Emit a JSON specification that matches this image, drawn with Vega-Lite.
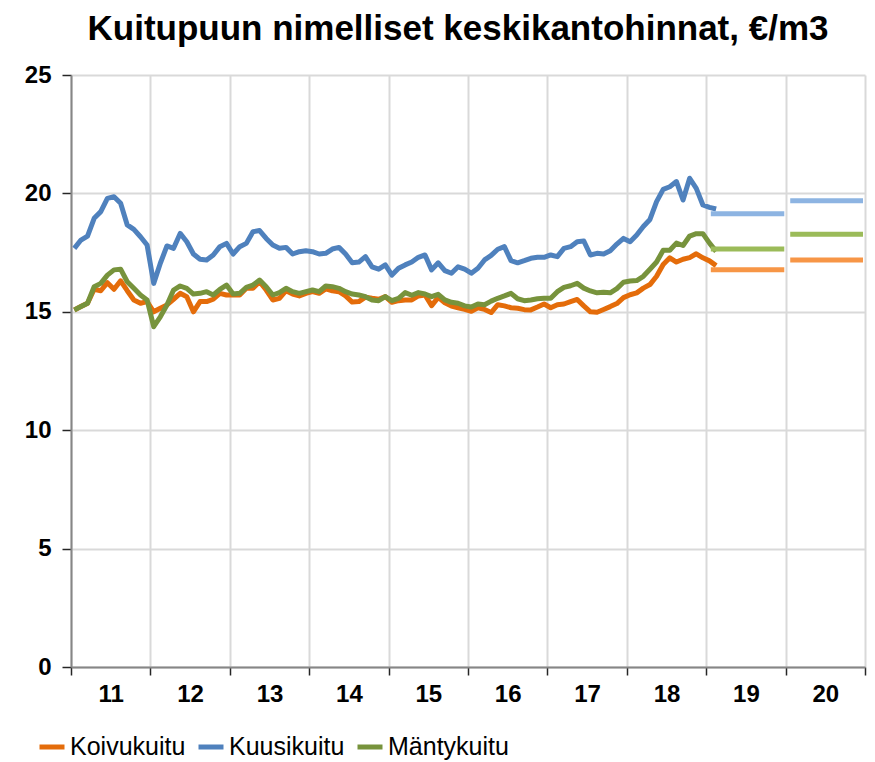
{
  "$schema": "https://vega.github.io/schema/vega-lite/v6.json",
  "width": 794,
  "height": 592,
  "autosize": {"type": "none"},
  "padding": {"left": 71, "top": 75, "right": 10, "bottom": 95},
  "background": "white",
  "title": {"text": "Kuitupuun nimelliset keskikantohinnat, €/m3", "fontSize": 35, "font": "Liberation Sans", "fontWeight": "bold", "color": "black", "anchor": "middle", "offset": 16, "dx": -10},
  "config": {"view": {"stroke": null}, "font": "Liberation Sans"},
  "datasets": {
    "monthly": [
      {"i":0,"Koivukuitu":15.08,"Kuusikuitu":17.68,"Mäntykuitu":15.08},
      {"i":1,"Koivukuitu":15.22,"Kuusikuitu":18.03,"Mäntykuitu":15.22},
      {"i":2,"Koivukuitu":15.36,"Kuusikuitu":18.2,"Mäntykuitu":15.36},
      {"i":3,"Koivukuitu":15.95,"Kuusikuitu":18.95,"Mäntykuitu":16.06},
      {"i":4,"Koivukuitu":15.89,"Kuusikuitu":19.23,"Mäntykuitu":16.2},
      {"i":5,"Koivukuitu":16.23,"Kuusikuitu":19.79,"Mäntykuitu":16.55},
      {"i":6,"Koivukuitu":15.95,"Kuusikuitu":19.86,"Mäntykuitu":16.77},
      {"i":7,"Koivukuitu":16.31,"Kuusikuitu":19.58,"Mäntykuitu":16.8},
      {"i":8,"Koivukuitu":15.89,"Kuusikuitu":18.67,"Mäntykuitu":16.27},
      {"i":9,"Koivukuitu":15.5,"Kuusikuitu":18.48,"Mäntykuitu":15.99},
      {"i":10,"Koivukuitu":15.36,"Kuusikuitu":18.17,"Mäntykuitu":15.71},
      {"i":11,"Koivukuitu":15.43,"Kuusikuitu":17.82,"Mäntykuitu":15.5},
      {"i":12,"Koivukuitu":15.0,"Kuusikuitu":16.2,"Mäntykuitu":14.37},
      {"i":13,"Koivukuitu":15.15,"Kuusikuitu":17.05,"Mäntykuitu":14.79},
      {"i":14,"Koivukuitu":15.29,"Kuusikuitu":17.78,"Mäntykuitu":15.29},
      {"i":15,"Koivukuitu":15.53,"Kuusikuitu":17.68,"Mäntykuitu":15.92},
      {"i":16,"Koivukuitu":15.78,"Kuusikuitu":18.31,"Mäntykuitu":16.09},
      {"i":17,"Koivukuitu":15.64,"Kuusikuitu":17.96,"Mäntykuitu":15.99},
      {"i":18,"Koivukuitu":15.0,"Kuusikuitu":17.44,"Mäntykuitu":15.75},
      {"i":19,"Koivukuitu":15.43,"Kuusikuitu":17.22,"Mäntykuitu":15.78},
      {"i":20,"Koivukuitu":15.43,"Kuusikuitu":17.19,"Mäntykuitu":15.85},
      {"i":21,"Koivukuitu":15.53,"Kuusikuitu":17.4,"Mäntykuitu":15.71},
      {"i":22,"Koivukuitu":15.78,"Kuusikuitu":17.75,"Mäntykuitu":15.95},
      {"i":23,"Koivukuitu":15.71,"Kuusikuitu":17.89,"Mäntykuitu":16.13},
      {"i":24,"Koivukuitu":15.71,"Kuusikuitu":17.44,"Mäntykuitu":15.75},
      {"i":25,"Koivukuitu":15.71,"Kuusikuitu":17.75,"Mäntykuitu":15.78},
      {"i":26,"Koivukuitu":15.99,"Kuusikuitu":17.89,"Mäntykuitu":16.03},
      {"i":27,"Koivukuitu":15.99,"Kuusikuitu":18.38,"Mäntykuitu":16.13},
      {"i":28,"Koivukuitu":16.27,"Kuusikuitu":18.43,"Mäntykuitu":16.34},
      {"i":29,"Koivukuitu":15.92,"Kuusikuitu":18.1,"Mäntykuitu":16.06},
      {"i":30,"Koivukuitu":15.5,"Kuusikuitu":17.82,"Mäntykuitu":15.71},
      {"i":31,"Koivukuitu":15.57,"Kuusikuitu":17.68,"Mäntykuitu":15.81},
      {"i":32,"Koivukuitu":15.89,"Kuusikuitu":17.72,"Mäntykuitu":15.99},
      {"i":33,"Koivukuitu":15.75,"Kuusikuitu":17.44,"Mäntykuitu":15.85},
      {"i":34,"Koivukuitu":15.67,"Kuusikuitu":17.54,"Mäntykuitu":15.78},
      {"i":35,"Koivukuitu":15.78,"Kuusikuitu":17.58,"Mäntykuitu":15.85},
      {"i":36,"Koivukuitu":15.85,"Kuusikuitu":17.54,"Mäntykuitu":15.92},
      {"i":37,"Koivukuitu":15.78,"Kuusikuitu":17.44,"Mäntykuitu":15.85},
      {"i":38,"Koivukuitu":15.97,"Kuusikuitu":17.47,"Mäntykuitu":16.09},
      {"i":39,"Koivukuitu":15.89,"Kuusikuitu":17.65,"Mäntykuitu":16.06},
      {"i":40,"Koivukuitu":15.85,"Kuusikuitu":17.72,"Mäntykuitu":15.99},
      {"i":41,"Koivukuitu":15.67,"Kuusikuitu":17.44,"Mäntykuitu":15.85},
      {"i":42,"Koivukuitu":15.41,"Kuusikuitu":17.07,"Mäntykuitu":15.75},
      {"i":43,"Koivukuitu":15.43,"Kuusikuitu":17.1,"Mäntykuitu":15.71},
      {"i":44,"Koivukuitu":15.62,"Kuusikuitu":17.33,"Mäntykuitu":15.64},
      {"i":45,"Koivukuitu":15.57,"Kuusikuitu":16.9,"Mäntykuitu":15.5},
      {"i":46,"Koivukuitu":15.53,"Kuusikuitu":16.8,"Mäntykuitu":15.47},
      {"i":47,"Koivukuitu":15.64,"Kuusikuitu":16.98,"Mäntykuitu":15.64},
      {"i":48,"Koivukuitu":15.4,"Kuusikuitu":16.55,"Mäntykuitu":15.47},
      {"i":49,"Koivukuitu":15.47,"Kuusikuitu":16.84,"Mäntykuitu":15.57},
      {"i":50,"Koivukuitu":15.5,"Kuusikuitu":16.98,"Mäntykuitu":15.81},
      {"i":51,"Koivukuitu":15.5,"Kuusikuitu":17.1,"Mäntykuitu":15.7},
      {"i":52,"Koivukuitu":15.67,"Kuusikuitu":17.3,"Mäntykuitu":15.81},
      {"i":53,"Koivukuitu":15.71,"Kuusikuitu":17.4,"Mäntykuitu":15.75},
      {"i":54,"Koivukuitu":15.26,"Kuusikuitu":16.77,"Mäntykuitu":15.64},
      {"i":55,"Koivukuitu":15.61,"Kuusikuitu":17.07,"Mäntykuitu":15.74},
      {"i":56,"Koivukuitu":15.38,"Kuusikuitu":16.74,"Mäntykuitu":15.5},
      {"i":57,"Koivukuitu":15.24,"Kuusikuitu":16.63,"Mäntykuitu":15.4},
      {"i":58,"Koivukuitu":15.17,"Kuusikuitu":16.9,"Mäntykuitu":15.36},
      {"i":59,"Koivukuitu":15.1,"Kuusikuitu":16.8,"Mäntykuitu":15.25},
      {"i":60,"Koivukuitu":15.02,"Kuusikuitu":16.63,"Mäntykuitu":15.2},
      {"i":61,"Koivukuitu":15.17,"Kuusikuitu":16.84,"Mäntykuitu":15.33},
      {"i":62,"Koivukuitu":15.1,"Kuusikuitu":17.19,"Mäntykuitu":15.3},
      {"i":63,"Koivukuitu":14.97,"Kuusikuitu":17.38,"Mäntykuitu":15.45},
      {"i":64,"Koivukuitu":15.3,"Kuusikuitu":17.64,"Mäntykuitu":15.57},
      {"i":65,"Koivukuitu":15.25,"Kuusikuitu":17.75,"Mäntykuitu":15.67},
      {"i":66,"Koivukuitu":15.17,"Kuusikuitu":17.16,"Mäntykuitu":15.78},
      {"i":67,"Koivukuitu":15.15,"Kuusikuitu":17.07,"Mäntykuitu":15.55},
      {"i":68,"Koivukuitu":15.09,"Kuusikuitu":17.16,"Mäntykuitu":15.47},
      {"i":69,"Koivukuitu":15.08,"Kuusikuitu":17.26,"Mäntykuitu":15.5},
      {"i":70,"Koivukuitu":15.2,"Kuusikuitu":17.3,"Mäntykuitu":15.55},
      {"i":71,"Koivukuitu":15.33,"Kuusikuitu":17.3,"Mäntykuitu":15.57},
      {"i":72,"Koivukuitu":15.17,"Kuusikuitu":17.4,"Mäntykuitu":15.57},
      {"i":73,"Koivukuitu":15.3,"Kuusikuitu":17.33,"Mäntykuitu":15.85},
      {"i":74,"Koivukuitu":15.33,"Kuusikuitu":17.68,"Mäntykuitu":16.03},
      {"i":75,"Koivukuitu":15.43,"Kuusikuitu":17.75,"Mäntykuitu":16.1},
      {"i":76,"Koivukuitu":15.52,"Kuusikuitu":17.96,"Mäntykuitu":16.2},
      {"i":77,"Koivukuitu":15.25,"Kuusikuitu":17.99,"Mäntykuitu":16.0},
      {"i":78,"Koivukuitu":15.0,"Kuusikuitu":17.4,"Mäntykuitu":15.88},
      {"i":79,"Koivukuitu":14.98,"Kuusikuitu":17.47,"Mäntykuitu":15.8},
      {"i":80,"Koivukuitu":15.1,"Kuusikuitu":17.44,"Mäntykuitu":15.83},
      {"i":81,"Koivukuitu":15.22,"Kuusikuitu":17.58,"Mäntykuitu":15.8},
      {"i":82,"Koivukuitu":15.35,"Kuusikuitu":17.86,"Mäntykuitu":15.98},
      {"i":83,"Koivukuitu":15.6,"Kuusikuitu":18.1,"Mäntykuitu":16.25},
      {"i":84,"Koivukuitu":15.72,"Kuusikuitu":17.96,"Mäntykuitu":16.3},
      {"i":85,"Koivukuitu":15.8,"Kuusikuitu":18.24,"Mäntykuitu":16.32},
      {"i":86,"Koivukuitu":16.0,"Kuusikuitu":18.6,"Mäntykuitu":16.5},
      {"i":87,"Koivukuitu":16.15,"Kuusikuitu":18.9,"Mäntykuitu":16.8},
      {"i":88,"Koivukuitu":16.5,"Kuusikuitu":19.65,"Mäntykuitu":17.1},
      {"i":89,"Koivukuitu":17.0,"Kuusikuitu":20.17,"Mäntykuitu":17.6},
      {"i":90,"Koivukuitu":17.28,"Kuusikuitu":20.28,"Mäntykuitu":17.6},
      {"i":91,"Koivukuitu":17.1,"Kuusikuitu":20.5,"Mäntykuitu":17.9},
      {"i":92,"Koivukuitu":17.22,"Kuusikuitu":19.72,"Mäntykuitu":17.8},
      {"i":93,"Koivukuitu":17.29,"Kuusikuitu":20.64,"Mäntykuitu":18.2},
      {"i":94,"Koivukuitu":17.45,"Kuusikuitu":20.21,"Mäntykuitu":18.3},
      {"i":95,"Koivukuitu":17.28,"Kuusikuitu":19.51,"Mäntykuitu":18.3},
      {"i":96,"Koivukuitu":17.15,"Kuusikuitu":19.41,"Mäntykuitu":17.9},
      {"i":97,"Koivukuitu":16.95,"Kuusikuitu":19.34,"Mäntykuitu":17.55}
    ],
    "forecast": [
      {"sarja":"Koivukuitu","alku":96.2,"loppu":107.3,"arvo":16.78},
      {"sarja":"Kuusikuitu","alku":96.2,"loppu":107.3,"arvo":19.14},
      {"sarja":"Mäntykuitu","alku":96.2,"loppu":107.3,"arvo":17.65},
      {"sarja":"Koivukuitu","alku":108.2,"loppu":119.2,"arvo":17.19},
      {"sarja":"Kuusikuitu","alku":108.2,"loppu":119.2,"arvo":19.69},
      {"sarja":"Mäntykuitu","alku":108.2,"loppu":119.2,"arvo":18.28}
    ]
  },
  "layer": [
    {
      "data": {"name": "monthly"},
      "transform": [{"fold": ["Koivukuitu", "Kuusikuitu", "Mäntykuitu"], "as": ["sarja", "arvo"]}],
      "mark": {"type": "line", "strokeWidth": 5, "strokeJoin": "round"},
      "encoding": {
        "x": {
          "field": "i", "type": "quantitative",
          "scale": {"domain": [-0.5, 119.5], "nice": false, "zero": false},
          "axis": {
            "values": [-0.5, 11.5, 23.5, 35.5, 47.5, 59.5, 71.5, 83.5, 95.5, 107.5, 119.5],
            "title": null, "grid": true, "gridColor": "#d9d9d9", "gridWidth": 2,
            "domainColor": "#868686", "domainWidth": 2,
            "tickColor": "#262626", "tickSize": 8, "tickWidth": 1.5,
            "labelExpr": "datum.value < 119 ? format(11 + (datum.value + 0.5) / 12, 'd') : ''",
            "labelOffset": 39.7, "labelFontSize": 24, "labelFontWeight": "bold", "labelColor": "black",
            "labelPadding": 7, "labelFlush": false, "labelBound": false, "labelOverlap": false
          }
        },
        "y": {
          "field": "arvo", "type": "quantitative",
          "scale": {"domain": [0, 25], "nice": false},
          "axis": {
            "values": [0, 5, 10, 15, 20, 25], "title": null,
            "grid": true, "gridColor": "#d9d9d9", "gridWidth": 2,
            "domainColor": "#868686", "domainWidth": 2,
            "tickColor": "#262626", "tickSize": 9, "tickWidth": 1.5,
            "labelFontSize": 24, "labelFontWeight": "bold", "labelColor": "black", "labelPadding": 11
          }
        },
        "color": {
          "field": "sarja", "type": "nominal",
          "scale": {"domain": ["Koivukuitu", "Kuusikuitu", "Mäntykuitu"], "range": ["#E46C0A", "#4F81BD", "#77933C"]},
          "legend": {
            "orient": "none", "legendX": -34, "legendY": 657, "direction": "horizontal", "title": null,
            "symbolType": "stroke", "symbolSize": 625, "symbolStrokeWidth": 5,
            "labelFontSize": 25, "labelColor": "black", "labelOffset": 3, "columnPadding": 2, "padding": 0
          }
        }
      }
    },
    {
      "data": {"name": "forecast"},
      "mark": {"type": "rule", "strokeWidth": 5},
      "encoding": {
        "x": {"field": "alku", "type": "quantitative"},
        "x2": {"field": "loppu"},
        "y": {"field": "arvo", "type": "quantitative"},
        "color": {
          "field": "sarja", "type": "nominal",
          "scale": {"domain": ["Koivukuitu", "Kuusikuitu", "Mäntykuitu"], "range": ["#F79646", "#8DB4E2", "#9BBB59"]},
          "legend": null
        }
      }
    }
  ],
  "resolve": {"scale": {"color": "independent"}}
}
